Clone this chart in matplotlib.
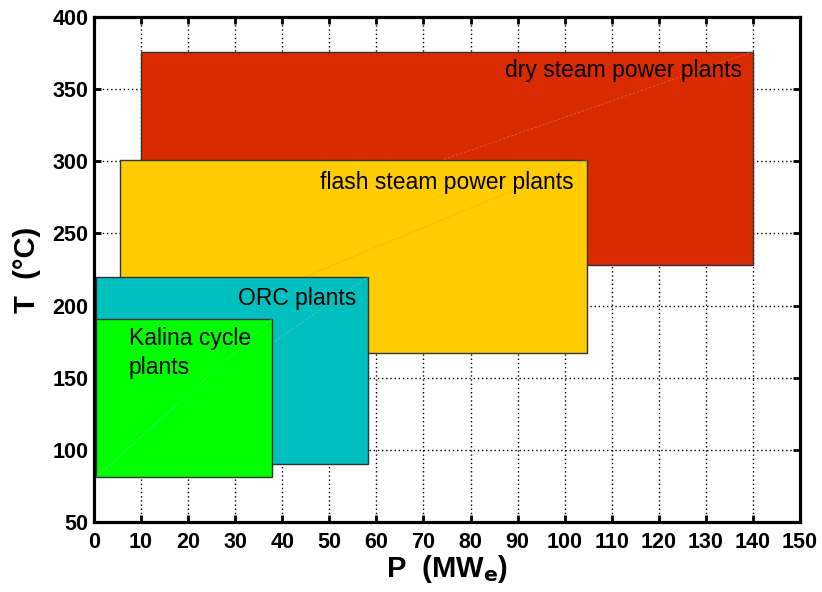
import matplotlib.pyplot as plt
from matplotlib.patches import Rectangle

# plant types: power range (MWe) and temperature range (deg C)
names = ["dry steam power plants", "flash steam power plants", "ORC plants", "Kalina cycle\nplants"]
p_min = [10, 5.5, 0.5, 0.5]
p_max = [140, 104.8, 58.3, 37.8]
t_min = [228, 167, 90, 81]
t_max = [376, 301, 220, 191]
colors = ["#D92A00", "#FFCC00", "#00BFBF", "#00FF00"]
diag_colors = ["#F07050", "#F0A020", "#60D0C0", "#60E0A0"]

# label anchors
label_x = [137.7, 101.8, 55.7, 7.4]
label_y = [363, 285.5, 205, 167]
label_ha = ["right", "right", "right", "left"]

fig = plt.figure(figsize=(8.22, 5.92), dpi=100)
ax = fig.add_axes([0.1144, 0.1182, 0.8588, 0.8531])

ax.set_xlim(0, 150)
ax.set_ylim(50, 400)
ax.set_xticks(range(0, 151, 10))
ax.set_yticks(range(50, 401, 50))
ax.grid(True, linestyle=(0, (1, 2)), color="black", linewidth=1)
ax.set_axisbelow(True)

for i in range(len(names)):
    w = p_max[i] - p_min[i]
    h = t_max[i] - t_min[i]
    ax.add_patch(Rectangle((p_min[i], t_min[i]), w, h, facecolor=colors[i],
                           edgecolor="#333333", linewidth=1, zorder=2 + i))
    # faint diagonal seam like the original rendering
    ax.plot([p_min[i], p_max[i]], [t_min[i], t_max[i]], color=diag_colors[i],
            linewidth=0.6, linestyle=(0, (3, 2)), alpha=0.7, zorder=2 + i)
    ax.text(label_x[i], label_y[i], names[i], ha=label_ha[i], va="center",
            fontsize=16.5, family="Liberation Sans", zorder=10,
            linespacing=1.3)

for s in ax.spines.values():
    s.set_linewidth(2.3)
    s.set_zorder(20)

ax.tick_params(direction="in", length=5, width=2, top=True, right=True,
               labelsize=15.5)
ax.tick_params(axis="x", pad=7)
ax.tick_params(axis="y", pad=4)
for lab in ax.get_xticklabels() + ax.get_yticklabels():
    lab.set_family("Liberation Sans")
    lab.set_fontweight("bold")

ax.set_xlabel(r"P  (MW$_\mathbf{e}$)", fontsize=21, fontweight="bold",
              family="Liberation Sans", labelpad=0)
ax.set_ylabel("T  (°C)", fontsize=21, fontweight="bold",
              family="Liberation Sans", labelpad=8)

fig.savefig("out.png", dpi=100)
